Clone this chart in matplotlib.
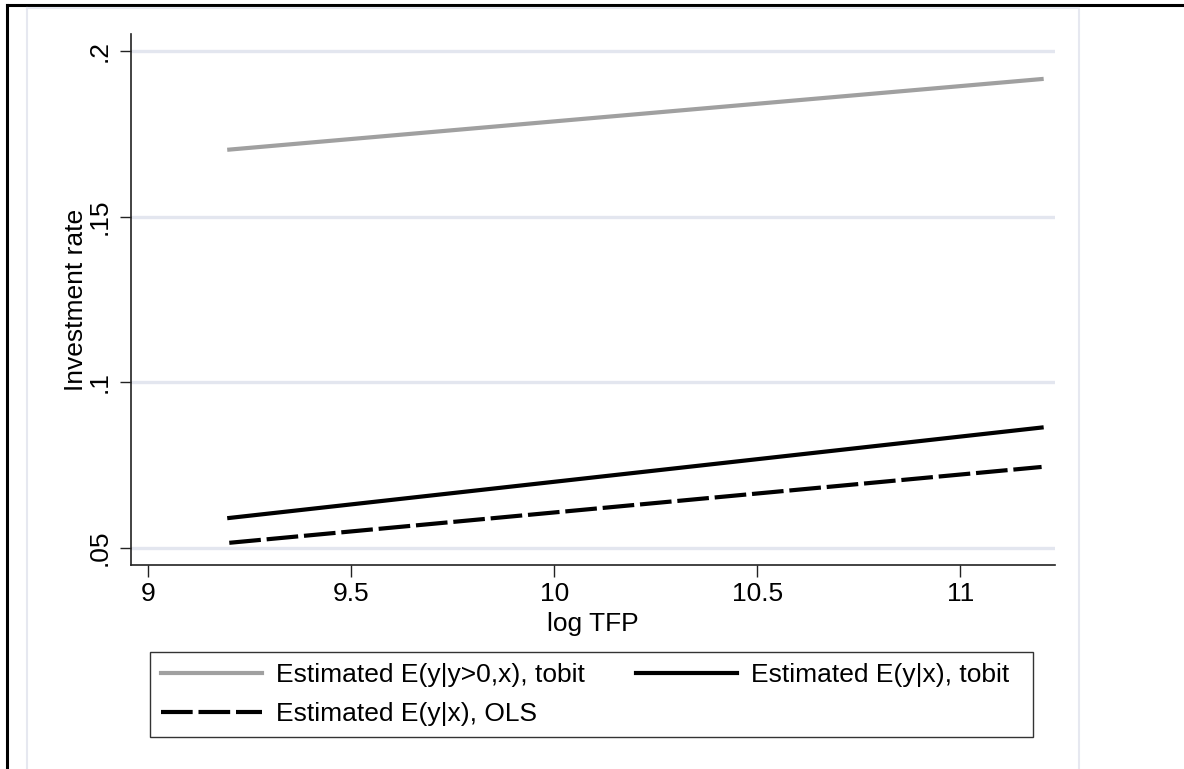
import matplotlib
matplotlib.use("Agg")
import matplotlib.pyplot as plt
from matplotlib.lines import Line2D
from matplotlib.patches import Rectangle

plt.rcParams['font.family'] = ['Liberation Sans', 'DejaVu Sans']

# fitted lines at both ends
log_tfp = [9.2, 11.2]
tobit_pos = [0.1702, 0.1915]   # Estimated E(y|y>0,x), tobit
tobit_all = [0.0590, 0.0863]   # Estimated E(y|x), tobit
ols = [0.0515, 0.0744]         # Estimated E(y|x), OLS

xticks = [9, 9.5, 10, 10.5, 11]
xtick_labels = ['9', '9.5', '10', '10.5', '11']
yticks = [0.05, 0.10, 0.15, 0.20]
ytick_labels = ['.05', '.1', '.15', '.2']

W, H = 1184, 769
fig = plt.figure(figsize=(W / 100, H / 100), dpi=100)

# outer black border (left and top only visible) and light inner frame
fig.add_artist(Line2D([7 / W, 1], [1 - 5 / H, 1 - 5 / H], color='black', lw=2.2))
fig.add_artist(Line2D([7 / W, 7 / W], [0, 1 - 5 / H], color='black', lw=2.2))
fig.add_artist(Line2D([27 / W, 1079 / W, 1079 / W], [1 - 8 / H, 1 - 8 / H, 0],
                      color='#E6E8F0', lw=1.5))
fig.add_artist(Line2D([27 / W, 27 / W], [1 - 8 / H, 0], color='#E6E8F0', lw=1.5))

ax = fig.add_axes([131 / W, 1 - 565 / H, (1055 - 131) / W, (565 - 34) / H])

l1, = ax.plot(log_tfp, tobit_pos, color='#A0A0A0', lw=3,
              label='Estimated E(y|y>0,x), tobit')
l2, = ax.plot(log_tfp, tobit_all, color='black', lw=3,
              label='Estimated E(y|x), tobit')
l3, = ax.plot(log_tfp, ols, color='black', lw=3, linestyle=(0, (7.6, 1.4)),
              label='Estimated E(y|x), OLS')

ax.set_xlim(8.958, 11.233)
ax.set_ylim(0.0448, 0.2051)
ax.set_xticks(xticks)
ax.set_xticklabels(xtick_labels)
ax.set_yticks(yticks)
ax.set_yticklabels(ytick_labels, rotation=90, va='center')

ax.grid(axis='y', color='#E3E6EF', lw=2.4)
ax.set_axisbelow(True)
for s in ['top', 'right']:
    ax.spines[s].set_visible(False)
for s in ['left', 'bottom']:
    ax.spines[s].set_linewidth(1.2)
    ax.spines[s].set_color('#222222')

ax.tick_params(axis='x', length=8.5, width=1.0, pad=4, labelsize=19, color='#222222')
ax.tick_params(axis='y', length=8, width=1.0, pad=6, labelsize=19, color='#222222')

ax.set_xlabel('log TFP', fontsize=19)
ax.xaxis.set_label_coords(0.5, -0.089)
ax.set_ylabel('Investment rate', fontsize=19)
ax.yaxis.set_label_coords(-0.047, 0.5)

# legend box drawn separately so the second column can sit where it does
fig.add_artist(Rectangle((150 / W, 1 - 737 / H), (1033 - 150) / W, (737 - 652) / H,
                         transform=fig.transFigure, fill=False,
                         edgecolor='#333333', lw=1.0))
leg = fig.legend([l1, l3, l2], [l1.get_label(), l3.get_label(), l2.get_label()],
                 ncol=2, loc='upper left', bbox_to_anchor=(150 / W, 1 - 652 / H),
                 fontsize=19, frameon=False,
                 handlelength=3.8, handletextpad=0.55, borderaxespad=0,
                 labelspacing=0.55, borderpad=0.43, columnspacing=1.95)

fig.savefig('out.png', dpi=100)
